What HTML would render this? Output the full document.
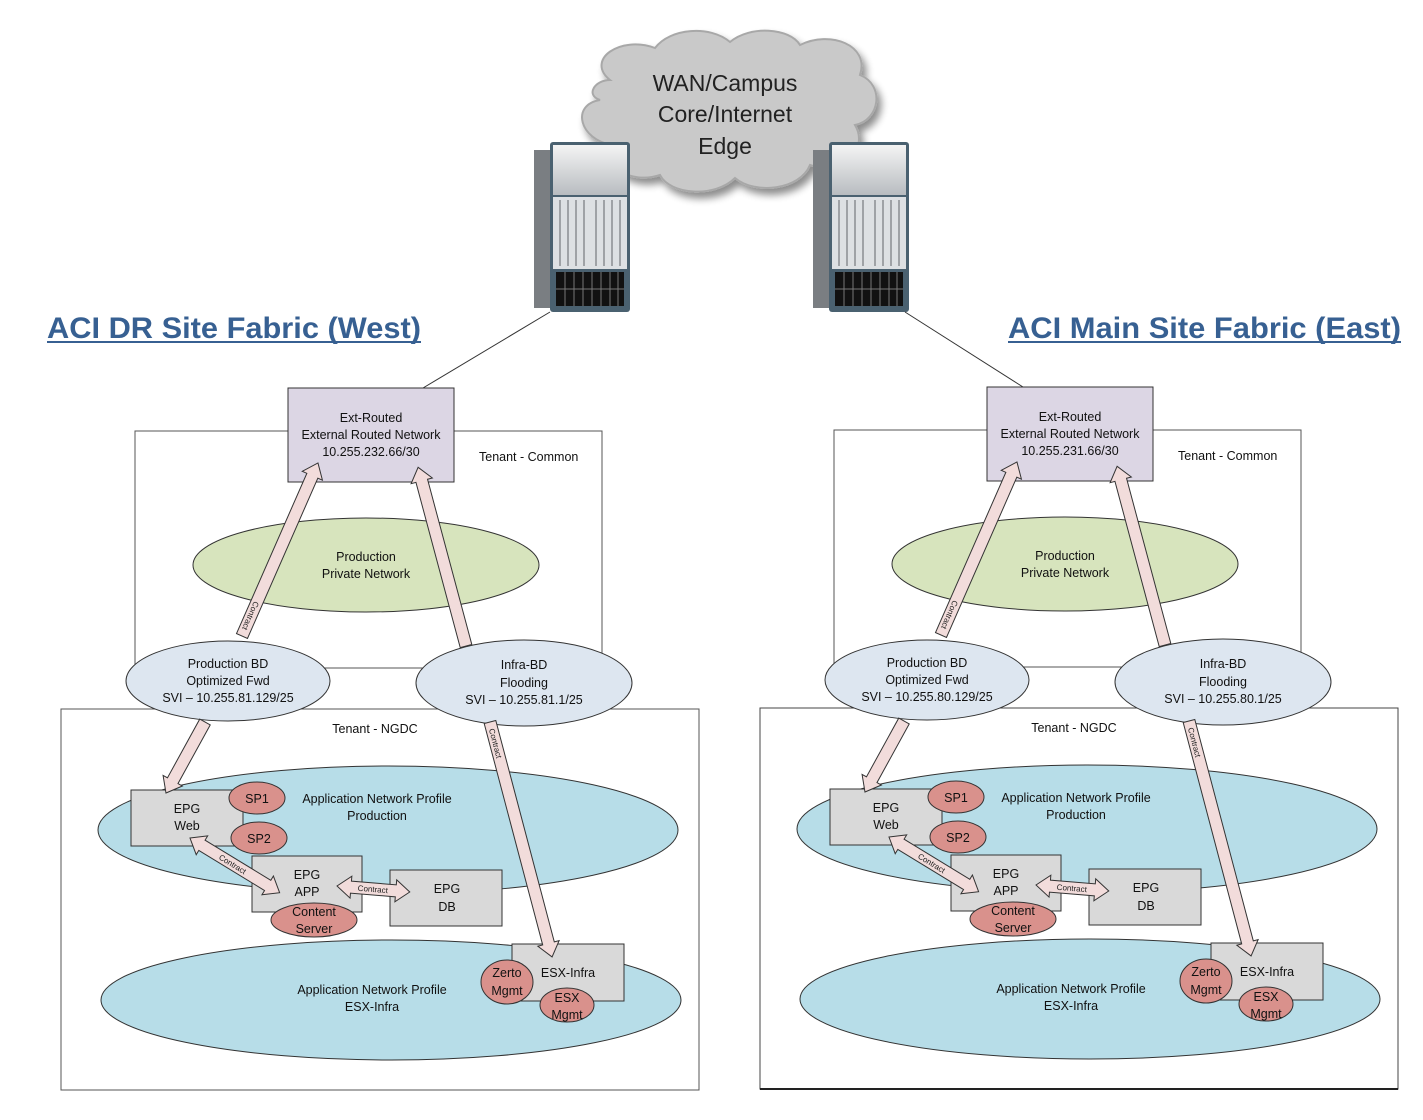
<!DOCTYPE html>
<html><head><meta charset="utf-8"><style>
html,body{margin:0;padding:0;background:#fff;}
svg{display:block;font-family:"Liberation Sans",sans-serif;}
.t{font-size:12.5px;fill:#111;text-anchor:middle;}
.s{font-size:8px;fill:#222;text-anchor:middle;}
.ar{fill:#f2dcdb;stroke:#333;stroke-width:1;}
</style></head><body>
<svg width="1423" height="1120" viewBox="0 0 1423 1120" xmlns="http://www.w3.org/2000/svg">
<defs>
<filter id="sh" x="-20%" y="-20%" width="140%" height="140%"><feGaussianBlur in="SourceAlpha" stdDeviation="4"/><feOffset dx="4" dy="6"/><feComponentTransfer><feFuncA type="linear" slope="0.45"/></feComponentTransfer><feMerge><feMergeNode/><feMergeNode in="SourceGraphic"/></feMerge></filter>
<linearGradient id="sv" x1="0" y1="0" x2="0" y2="1"><stop offset="0" stop-color="#f4f4f4"/><stop offset="1" stop-color="#b8bcc0"/></linearGradient>
</defs>

<g filter="url(#sh)" fill="#c9c9c9" stroke="#a8a8a8" stroke-width="2">
<path d="M610,80 C585,60 620,35 655,48 C670,28 710,25 730,42 C750,25 790,28 800,45 C830,30 870,45 860,75 C885,85 880,120 855,125 C870,150 840,175 810,165 C800,190 755,195 735,178 C715,198 670,195 660,175 C630,185 600,165 612,145 C580,140 570,105 600,100 C585,95 595,80 610,80 Z"/>
</g>
<text x="725" y="91" style="font-size:23px;fill:#222;text-anchor:middle">WAN/Campus</text>
<text x="725" y="122" style="font-size:23px;fill:#222;text-anchor:middle">Core/Internet</text>
<text x="725" y="154" style="font-size:23px;fill:#222;text-anchor:middle">Edge</text>

<g>
<rect x="534" y="150" width="20" height="158" fill="#7a7e82"/>
<rect x="550" y="142" width="80" height="170" rx="3" fill="#4a6170"/>
<rect x="553" y="145" width="74" height="50" fill="url(#sv)"/>
<rect x="553" y="197" width="74" height="72" fill="#dde0e3"/>
<g stroke="#8a8e92" stroke-width="1.5"><line x1="560" y1="200" x2="560" y2="266"/><line x1="568" y1="200" x2="568" y2="266"/><line x1="576" y1="200" x2="576" y2="266"/><line x1="584" y1="200" x2="584" y2="266"/><line x1="596" y1="200" x2="596" y2="266"/><line x1="604" y1="200" x2="604" y2="266"/><line x1="612" y1="200" x2="612" y2="266"/><line x1="620" y1="200" x2="620" y2="266"/></g>
<rect x="556" y="272" width="68" height="34" fill="#111"/>
<g stroke="#777" stroke-width="1"><line x1="556" y1="289" x2="624" y2="289"/><line x1="565" y1="272" x2="565" y2="306"/><line x1="574" y1="272" x2="574" y2="306"/><line x1="583" y1="272" x2="583" y2="306"/><line x1="592" y1="272" x2="592" y2="306"/><line x1="601" y1="272" x2="601" y2="306"/><line x1="610" y1="272" x2="610" y2="306"/><line x1="618" y1="272" x2="618" y2="306"/></g>
</g>
<g transform="translate(279,0)">
<rect x="534" y="150" width="20" height="158" fill="#7a7e82"/>
<rect x="550" y="142" width="80" height="170" rx="3" fill="#4a6170"/>
<rect x="553" y="145" width="74" height="50" fill="url(#sv)"/>
<rect x="553" y="197" width="74" height="72" fill="#dde0e3"/>
<g stroke="#8a8e92" stroke-width="1.5"><line x1="560" y1="200" x2="560" y2="266"/><line x1="568" y1="200" x2="568" y2="266"/><line x1="576" y1="200" x2="576" y2="266"/><line x1="584" y1="200" x2="584" y2="266"/><line x1="596" y1="200" x2="596" y2="266"/><line x1="604" y1="200" x2="604" y2="266"/><line x1="612" y1="200" x2="612" y2="266"/><line x1="620" y1="200" x2="620" y2="266"/></g>
<rect x="556" y="272" width="68" height="34" fill="#111"/>
<g stroke="#777" stroke-width="1"><line x1="556" y1="289" x2="624" y2="289"/><line x1="565" y1="272" x2="565" y2="306"/><line x1="574" y1="272" x2="574" y2="306"/><line x1="583" y1="272" x2="583" y2="306"/><line x1="592" y1="272" x2="592" y2="306"/><line x1="601" y1="272" x2="601" y2="306"/><line x1="610" y1="272" x2="610" y2="306"/><line x1="618" y1="272" x2="618" y2="306"/></g>
</g>

<text x="47" y="338" textLength="374" lengthAdjust="spacingAndGlyphs" style="font-size:30px;font-weight:bold;fill:#376092">ACI DR Site Fabric (West)</text>
<rect x="47" y="341" width="374" height="2" fill="#376092"/>
<text x="1008" y="338" textLength="393" lengthAdjust="spacingAndGlyphs" style="font-size:30px;font-weight:bold;fill:#376092">ACI Main Site Fabric (East)</text>
<rect x="1008" y="341" width="393" height="2" fill="#376092"/>

<line x1="550" y1="312" x2="423" y2="388" stroke="#333"/>
<line x1="905" y1="312" x2="1023" y2="387" stroke="#333"/>

<g>
<rect x="135" y="431" width="467" height="237" fill="#fff" stroke="#555"/>
<text x="479" y="461" style="font-size:12.5px;fill:#111">Tenant - Common</text>
<ellipse cx="366" cy="565" rx="173" ry="47" fill="#d7e4bd" stroke="#333"/>
<text class="t" x="366" y="561">Production</text><text class="t" x="366" y="578">Private Network</text>
<rect x="61" y="709" width="638" height="381" fill="#fff" stroke="#555"/>
<text class="t" x="375" y="733">Tenant - NGDC</text>
<ellipse cx="388" cy="830" rx="290" ry="64" fill="#b7dde8" stroke="#333"/>
<ellipse cx="391" cy="1000" rx="290" ry="60" fill="#b7dde8" stroke="#333"/>
<text class="t" x="377" y="803">Application Network Profile</text><text class="t" x="377" y="820">Production</text>
<text class="t" x="372" y="994">Application Network Profile</text><text class="t" x="372" y="1011">ESX-Infra</text>
<rect x="288" y="388" width="166" height="94" fill="#dcd6e4" stroke="#333"/>
<text class="t" x="371" y="422">Ext-Routed</text><text class="t" x="371" y="439">External Routed Network</text><text class="t" x="371" y="456">10.255.232.66/30</text>
<ellipse cx="228" cy="681" rx="102" ry="40" fill="#dde6f0" stroke="#333"/>
<text class="t" x="228" y="668">Production BD</text><text class="t" x="228" y="685">Optimized Fwd</text><text class="t" x="228" y="702">SVI – 10.255.81.129/25</text>
<ellipse cx="524" cy="683" rx="108" ry="43" fill="#dde6f0" stroke="#333"/>
<text class="t" x="524" y="669">Infra-BD</text><text class="t" x="524" y="687">Flooding</text><text class="t" x="524" y="704">SVI – 10.255.81.1/25</text>
<rect x="131" y="790" width="112" height="56" fill="#d9d9d9" stroke="#333"/>
<text class="t" x="187" y="813">EPG</text><text class="t" x="187" y="830">Web</text>
<ellipse cx="257" cy="798" rx="28" ry="16" fill="#d9918c" stroke="#333"/><text class="t" x="257" y="803">SP1</text>
<ellipse cx="259" cy="838" rx="28" ry="16" fill="#d9918c" stroke="#333"/><text class="t" x="259" y="843">SP2</text>
<rect x="252" y="856" width="110" height="56" fill="#d9d9d9" stroke="#333"/>
<text class="t" x="307" y="879">EPG</text><text class="t" x="307" y="896">APP</text>
<ellipse cx="314" cy="920" rx="43" ry="17" fill="#d9918c" stroke="#333"/>
<text class="t" x="314" y="916">Content</text><text class="t" x="314" y="933">Server</text>
<rect x="390" y="870" width="112" height="56" fill="#d9d9d9" stroke="#333"/>
<text class="t" x="447" y="893">EPG</text><text class="t" x="447" y="911">DB</text>
<rect x="512" y="944" width="112" height="57" fill="#d9d9d9" stroke="#333"/>
<text class="t" x="568" y="977">ESX-Infra</text>
<ellipse cx="507" cy="982" rx="26" ry="22" fill="#d9918c" stroke="#333"/>
<text class="t" x="507" y="977">Zerto</text><text class="t" x="507" y="995">Mgmt</text>
<ellipse cx="567" cy="1005" rx="27" ry="17" fill="#d9918c" stroke="#333"/>
<text class="t" x="567" y="1002">ESX</text><text class="t" x="567" y="1019">Mgmt</text>
<g transform="translate(242,636) rotate(-66.3)"><path class="ar" d="M0,-6 L175,-6 L175,-11 L189,0 L175,11 L175,6 L0,6 Z"/><text class="s" x="22" y="3" transform="rotate(180 22 0)">Contract</text></g>
<g transform="translate(466,646) rotate(-105)"><path class="ar" d="M0,-6 L171,-6 L171,-11 L185,0 L171,11 L171,6 L0,6 Z"/></g>
<g transform="translate(205,722) rotate(118.8)"><path class="ar" d="M0,-6 L67,-6 L67,-11 L81,0 L67,11 L67,6 L0,6 Z"/></g>
<g transform="translate(490,722) rotate(75.2)"><path class="ar" d="M0,-6 L229,-6 L229,-11 L243,0 L229,11 L229,6 L0,6 Z"/><text class="s" x="22" y="3">Contract</text></g>
<g transform="translate(190,838) rotate(31.4)"><path class="ar" d="M0,0 L14,-11 L14,-6 L91,-6 L91,-11 L105,0 L91,11 L91,6 L14,6 L14,11 Z"/><text class="s" x="50" y="3">Contract</text></g>
<g transform="translate(337,886) rotate(4.7)"><path class="ar" d="M0,0 L14,-11 L14,-6 L59,-6 L59,-11 L73,0 L59,11 L59,6 L14,6 L14,11 Z"/><text class="s" x="36" y="3">Contract</text></g>
</g>

<g transform="translate(699,-1)">
<rect x="135" y="431" width="467" height="237" fill="#fff" stroke="#555"/>
<text x="479" y="461" style="font-size:12.5px;fill:#111">Tenant - Common</text>
<ellipse cx="366" cy="565" rx="173" ry="47" fill="#d7e4bd" stroke="#333"/>
<text class="t" x="366" y="561">Production</text><text class="t" x="366" y="578">Private Network</text>
<rect x="61" y="709" width="638" height="381" fill="#fff" stroke="#444"/>
<line x1="61" y1="1090" x2="699" y2="1090" stroke="#222" stroke-width="2"/>
<text class="t" x="375" y="733">Tenant - NGDC</text>
<ellipse cx="388" cy="830" rx="290" ry="64" fill="#b7dde8" stroke="#333"/>
<ellipse cx="391" cy="1000" rx="290" ry="60" fill="#b7dde8" stroke="#333"/>
<text class="t" x="377" y="803">Application Network Profile</text><text class="t" x="377" y="820">Production</text>
<text class="t" x="372" y="994">Application Network Profile</text><text class="t" x="372" y="1011">ESX-Infra</text>
<rect x="288" y="388" width="166" height="94" fill="#dcd6e4" stroke="#333"/>
<text class="t" x="371" y="422">Ext-Routed</text><text class="t" x="371" y="439">External Routed Network</text><text class="t" x="371" y="456">10.255.231.66/30</text>
<ellipse cx="228" cy="681" rx="102" ry="40" fill="#dde6f0" stroke="#333"/>
<text class="t" x="228" y="668">Production BD</text><text class="t" x="228" y="685">Optimized Fwd</text><text class="t" x="228" y="702">SVI – 10.255.80.129/25</text>
<ellipse cx="524" cy="683" rx="108" ry="43" fill="#dde6f0" stroke="#333"/>
<text class="t" x="524" y="669">Infra-BD</text><text class="t" x="524" y="687">Flooding</text><text class="t" x="524" y="704">SVI – 10.255.80.1/25</text>
<rect x="131" y="790" width="112" height="56" fill="#d9d9d9" stroke="#333"/>
<text class="t" x="187" y="813">EPG</text><text class="t" x="187" y="830">Web</text>
<ellipse cx="257" cy="798" rx="28" ry="16" fill="#d9918c" stroke="#333"/><text class="t" x="257" y="803">SP1</text>
<ellipse cx="259" cy="838" rx="28" ry="16" fill="#d9918c" stroke="#333"/><text class="t" x="259" y="843">SP2</text>
<rect x="252" y="856" width="110" height="56" fill="#d9d9d9" stroke="#333"/>
<text class="t" x="307" y="879">EPG</text><text class="t" x="307" y="896">APP</text>
<ellipse cx="314" cy="920" rx="43" ry="17" fill="#d9918c" stroke="#333"/>
<text class="t" x="314" y="916">Content</text><text class="t" x="314" y="933">Server</text>
<rect x="390" y="870" width="112" height="56" fill="#d9d9d9" stroke="#333"/>
<text class="t" x="447" y="893">EPG</text><text class="t" x="447" y="911">DB</text>
<rect x="512" y="944" width="112" height="57" fill="#d9d9d9" stroke="#333"/>
<text class="t" x="568" y="977">ESX-Infra</text>
<ellipse cx="507" cy="982" rx="26" ry="22" fill="#d9918c" stroke="#333"/>
<text class="t" x="507" y="977">Zerto</text><text class="t" x="507" y="995">Mgmt</text>
<ellipse cx="567" cy="1005" rx="27" ry="17" fill="#d9918c" stroke="#333"/>
<text class="t" x="567" y="1002">ESX</text><text class="t" x="567" y="1019">Mgmt</text>
<g transform="translate(242,636) rotate(-66.3)"><path class="ar" d="M0,-6 L175,-6 L175,-11 L189,0 L175,11 L175,6 L0,6 Z"/><text class="s" x="22" y="3" transform="rotate(180 22 0)">Contract</text></g>
<g transform="translate(466,646) rotate(-105)"><path class="ar" d="M0,-6 L171,-6 L171,-11 L185,0 L171,11 L171,6 L0,6 Z"/></g>
<g transform="translate(205,722) rotate(118.8)"><path class="ar" d="M0,-6 L67,-6 L67,-11 L81,0 L67,11 L67,6 L0,6 Z"/></g>
<g transform="translate(490,722) rotate(75.2)"><path class="ar" d="M0,-6 L229,-6 L229,-11 L243,0 L229,11 L229,6 L0,6 Z"/><text class="s" x="22" y="3">Contract</text></g>
<g transform="translate(190,838) rotate(31.4)"><path class="ar" d="M0,0 L14,-11 L14,-6 L91,-6 L91,-11 L105,0 L91,11 L91,6 L14,6 L14,11 Z"/><text class="s" x="50" y="3">Contract</text></g>
<g transform="translate(337,886) rotate(4.7)"><path class="ar" d="M0,0 L14,-11 L14,-6 L59,-6 L59,-11 L73,0 L59,11 L59,6 L14,6 L14,11 Z"/><text class="s" x="36" y="3">Contract</text></g>
</g>
</svg>
</body></html>
